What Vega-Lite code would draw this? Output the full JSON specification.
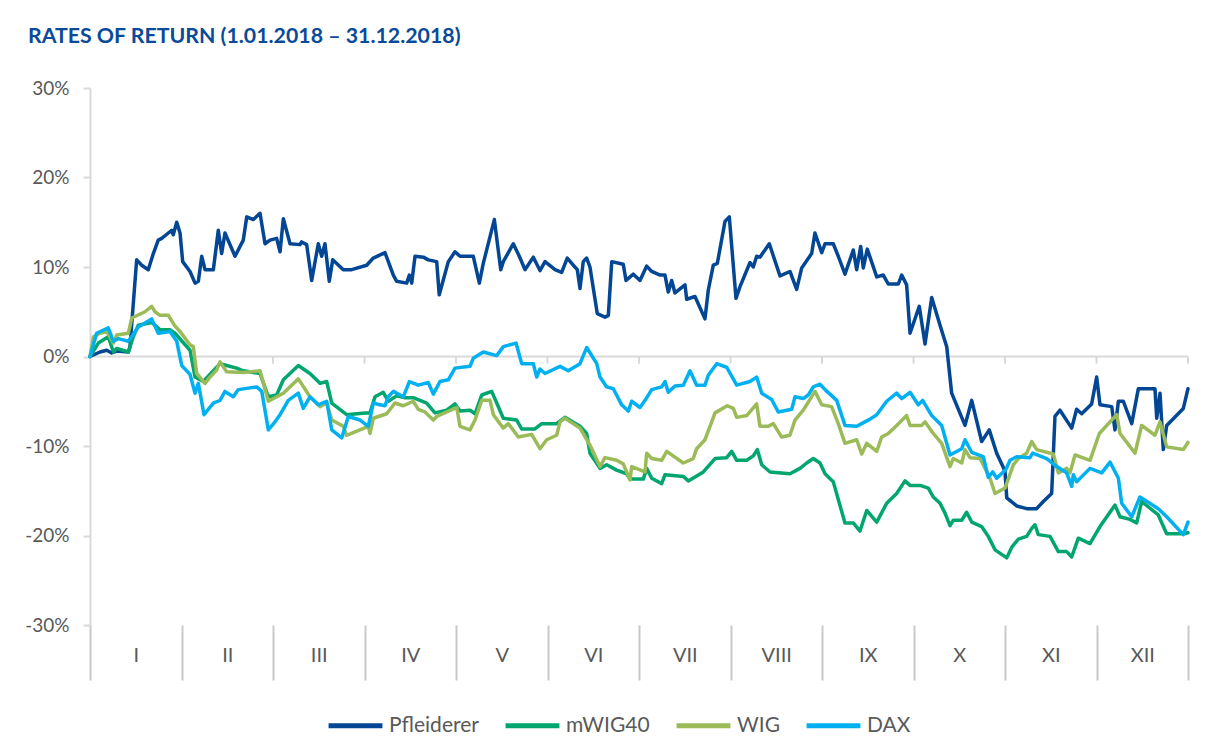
{
  "$schema": "https://vega.github.io/schema/vega-lite/v6.json",
  "width": 1098,
  "height": 537,
  "autosize": {"type": "none"},
  "padding": {"left": 90, "top": 88, "right": 27, "bottom": 131},
  "background": "white",
  "config": {
    "view": {"stroke": null},
    "font": "Lato",
    "axis": {"labelFont": "Lato", "labelColor": "#595959", "domainColor": "#D9D9D9", "tickColor": "#D9D9D9"}
  },
  "title": {
    "text": "RATES OF RETURN (1.01.2018 – 31.12.2018)",
    "anchor": "start",
    "frame": "group",
    "dx": -62,
    "offset": 32,
    "font": "Lato",
    "fontSize": 21.3,
    "fontWeight": "bold",
    "color": "#0A4A9A"
  },
  "datasets": {
    "months": [{"m": 0}, {"m": 1}, {"m": 2}, {"m": 3}, {"m": 4}, {"m": 5}, {"m": 6}, {"m": 7}, {"m": 8}, {"m": 9}, {"m": 10}, {"m": 11}, {"m": 12}],
    "series": [
      {"s": "Pfleiderer", "t": 0, "v": 0},
      {"s": "Pfleiderer", "t": 0.109, "v": 0.5},
      {"s": "Pfleiderer", "t": 0.183, "v": 0.7},
      {"s": "Pfleiderer", "t": 0.237, "v": 0.4},
      {"s": "Pfleiderer", "t": 0.292, "v": 0.6},
      {"s": "Pfleiderer", "t": 0.419, "v": 0.5},
      {"s": "Pfleiderer", "t": 0.437, "v": 1.1},
      {"s": "Pfleiderer", "t": 0.51, "v": 10.8},
      {"s": "Pfleiderer", "t": 0.565, "v": 10.2},
      {"s": "Pfleiderer", "t": 0.637, "v": 9.7},
      {"s": "Pfleiderer", "t": 0.692, "v": 11.5},
      {"s": "Pfleiderer", "t": 0.746, "v": 13.0},
      {"s": "Pfleiderer", "t": 0.784, "v": 13.2},
      {"s": "Pfleiderer", "t": 0.856, "v": 13.8},
      {"s": "Pfleiderer", "t": 0.893, "v": 14.1},
      {"s": "Pfleiderer", "t": 0.91, "v": 13.6},
      {"s": "Pfleiderer", "t": 0.948, "v": 15.0},
      {"s": "Pfleiderer", "t": 0.984, "v": 13.8},
      {"s": "Pfleiderer", "t": 1.013, "v": 10.6},
      {"s": "Pfleiderer", "t": 1.093, "v": 9.5},
      {"s": "Pfleiderer", "t": 1.148, "v": 8.2},
      {"s": "Pfleiderer", "t": 1.184, "v": 8.4},
      {"s": "Pfleiderer", "t": 1.221, "v": 11.2},
      {"s": "Pfleiderer", "t": 1.257, "v": 9.7},
      {"s": "Pfleiderer", "t": 1.348, "v": 9.7},
      {"s": "Pfleiderer", "t": 1.402, "v": 14.1},
      {"s": "Pfleiderer", "t": 1.439, "v": 11.5},
      {"s": "Pfleiderer", "t": 1.475, "v": 13.8},
      {"s": "Pfleiderer", "t": 1.585, "v": 11.2},
      {"s": "Pfleiderer", "t": 1.675, "v": 13.0},
      {"s": "Pfleiderer", "t": 1.713, "v": 15.6},
      {"s": "Pfleiderer", "t": 1.785, "v": 15.3},
      {"s": "Pfleiderer", "t": 1.858, "v": 16.0},
      {"s": "Pfleiderer", "t": 1.913, "v": 12.6},
      {"s": "Pfleiderer", "t": 1.967, "v": 13.0},
      {"s": "Pfleiderer", "t": 2.04, "v": 13.2},
      {"s": "Pfleiderer", "t": 2.077, "v": 11.7},
      {"s": "Pfleiderer", "t": 2.113, "v": 15.4},
      {"s": "Pfleiderer", "t": 2.186, "v": 12.6},
      {"s": "Pfleiderer", "t": 2.295, "v": 12.5},
      {"s": "Pfleiderer", "t": 2.313, "v": 12.8},
      {"s": "Pfleiderer", "t": 2.368, "v": 12.5},
      {"s": "Pfleiderer", "t": 2.423, "v": 8.5},
      {"s": "Pfleiderer", "t": 2.495, "v": 12.6},
      {"s": "Pfleiderer", "t": 2.532, "v": 11.2},
      {"s": "Pfleiderer", "t": 2.568, "v": 12.6},
      {"s": "Pfleiderer", "t": 2.615, "v": 8.4},
      {"s": "Pfleiderer", "t": 2.653, "v": 10.8},
      {"s": "Pfleiderer", "t": 2.768, "v": 9.7},
      {"s": "Pfleiderer", "t": 2.86, "v": 9.7},
      {"s": "Pfleiderer", "t": 3.024, "v": 10.2},
      {"s": "Pfleiderer", "t": 3.096, "v": 11.0},
      {"s": "Pfleiderer", "t": 3.224, "v": 11.6},
      {"s": "Pfleiderer", "t": 3.315, "v": 9.1},
      {"s": "Pfleiderer", "t": 3.352, "v": 8.4},
      {"s": "Pfleiderer", "t": 3.461, "v": 8.2},
      {"s": "Pfleiderer", "t": 3.49, "v": 9.1},
      {"s": "Pfleiderer", "t": 3.516, "v": 8.2},
      {"s": "Pfleiderer", "t": 3.552, "v": 11.2},
      {"s": "Pfleiderer", "t": 3.643, "v": 11.1},
      {"s": "Pfleiderer", "t": 3.697, "v": 10.8},
      {"s": "Pfleiderer", "t": 3.789, "v": 10.6},
      {"s": "Pfleiderer", "t": 3.817, "v": 6.9},
      {"s": "Pfleiderer", "t": 3.916, "v": 10.6},
      {"s": "Pfleiderer", "t": 3.989, "v": 11.7},
      {"s": "Pfleiderer", "t": 4.044, "v": 11.2},
      {"s": "Pfleiderer", "t": 4.189, "v": 11.2},
      {"s": "Pfleiderer", "t": 4.255, "v": 8.2},
      {"s": "Pfleiderer", "t": 4.298, "v": 10.4},
      {"s": "Pfleiderer", "t": 4.419, "v": 15.3},
      {"s": "Pfleiderer", "t": 4.489, "v": 9.7},
      {"s": "Pfleiderer", "t": 4.517, "v": 10.6},
      {"s": "Pfleiderer", "t": 4.626, "v": 12.6},
      {"s": "Pfleiderer", "t": 4.692, "v": 11.2},
      {"s": "Pfleiderer", "t": 4.754, "v": 9.7},
      {"s": "Pfleiderer", "t": 4.845, "v": 11.1},
      {"s": "Pfleiderer", "t": 4.918, "v": 9.6},
      {"s": "Pfleiderer", "t": 4.973, "v": 10.6},
      {"s": "Pfleiderer", "t": 5.082, "v": 9.7},
      {"s": "Pfleiderer", "t": 5.155, "v": 9.4},
      {"s": "Pfleiderer", "t": 5.216, "v": 11.0},
      {"s": "Pfleiderer", "t": 5.282, "v": 10.2},
      {"s": "Pfleiderer", "t": 5.326, "v": 9.7},
      {"s": "Pfleiderer", "t": 5.355, "v": 7.6},
      {"s": "Pfleiderer", "t": 5.391, "v": 10.6},
      {"s": "Pfleiderer", "t": 5.428, "v": 11.0},
      {"s": "Pfleiderer", "t": 5.464, "v": 10.0},
      {"s": "Pfleiderer", "t": 5.544, "v": 4.8},
      {"s": "Pfleiderer", "t": 5.628, "v": 4.4},
      {"s": "Pfleiderer", "t": 5.665, "v": 4.6},
      {"s": "Pfleiderer", "t": 5.702, "v": 10.6},
      {"s": "Pfleiderer", "t": 5.828, "v": 10.3},
      {"s": "Pfleiderer", "t": 5.858, "v": 8.5},
      {"s": "Pfleiderer", "t": 5.938, "v": 9.2},
      {"s": "Pfleiderer", "t": 6.011, "v": 8.5},
      {"s": "Pfleiderer", "t": 6.084, "v": 10.1},
      {"s": "Pfleiderer", "t": 6.139, "v": 9.5},
      {"s": "Pfleiderer", "t": 6.23, "v": 9.1},
      {"s": "Pfleiderer", "t": 6.284, "v": 9.1},
      {"s": "Pfleiderer", "t": 6.32, "v": 7.2},
      {"s": "Pfleiderer", "t": 6.357, "v": 8.5},
      {"s": "Pfleiderer", "t": 6.393, "v": 7.1},
      {"s": "Pfleiderer", "t": 6.503, "v": 8.0},
      {"s": "Pfleiderer", "t": 6.521, "v": 6.4},
      {"s": "Pfleiderer", "t": 6.612, "v": 6.7},
      {"s": "Pfleiderer", "t": 6.721, "v": 4.2},
      {"s": "Pfleiderer", "t": 6.757, "v": 7.4},
      {"s": "Pfleiderer", "t": 6.812, "v": 10.2},
      {"s": "Pfleiderer", "t": 6.856, "v": 10.4},
      {"s": "Pfleiderer", "t": 6.94, "v": 15.1},
      {"s": "Pfleiderer", "t": 6.987, "v": 15.6},
      {"s": "Pfleiderer", "t": 7.06, "v": 6.5},
      {"s": "Pfleiderer", "t": 7.104, "v": 7.8},
      {"s": "Pfleiderer", "t": 7.213, "v": 10.5},
      {"s": "Pfleiderer", "t": 7.249, "v": 10.0},
      {"s": "Pfleiderer", "t": 7.286, "v": 11.2},
      {"s": "Pfleiderer", "t": 7.322, "v": 11.1},
      {"s": "Pfleiderer", "t": 7.424, "v": 12.6},
      {"s": "Pfleiderer", "t": 7.541, "v": 9.0},
      {"s": "Pfleiderer", "t": 7.65, "v": 9.5},
      {"s": "Pfleiderer", "t": 7.723, "v": 7.5},
      {"s": "Pfleiderer", "t": 7.778, "v": 9.9},
      {"s": "Pfleiderer", "t": 7.887, "v": 11.5},
      {"s": "Pfleiderer", "t": 7.923, "v": 13.8},
      {"s": "Pfleiderer", "t": 7.997, "v": 11.6},
      {"s": "Pfleiderer", "t": 8.033, "v": 12.6},
      {"s": "Pfleiderer", "t": 8.123, "v": 12.6},
      {"s": "Pfleiderer", "t": 8.178, "v": 11.2},
      {"s": "Pfleiderer", "t": 8.251, "v": 9.2},
      {"s": "Pfleiderer", "t": 8.342, "v": 11.9},
      {"s": "Pfleiderer", "t": 8.379, "v": 9.7},
      {"s": "Pfleiderer", "t": 8.423, "v": 12.3},
      {"s": "Pfleiderer", "t": 8.451, "v": 9.9},
      {"s": "Pfleiderer", "t": 8.495, "v": 12.0},
      {"s": "Pfleiderer", "t": 8.598, "v": 8.9},
      {"s": "Pfleiderer", "t": 8.67, "v": 9.1},
      {"s": "Pfleiderer", "t": 8.724, "v": 8.1},
      {"s": "Pfleiderer", "t": 8.834, "v": 8.1},
      {"s": "Pfleiderer", "t": 8.871, "v": 9.1},
      {"s": "Pfleiderer", "t": 8.925, "v": 8.0},
      {"s": "Pfleiderer", "t": 8.962, "v": 2.6},
      {"s": "Pfleiderer", "t": 9.063, "v": 5.6},
      {"s": "Pfleiderer", "t": 9.126, "v": 1.4},
      {"s": "Pfleiderer", "t": 9.199, "v": 6.6},
      {"s": "Pfleiderer", "t": 9.29, "v": 3.5},
      {"s": "Pfleiderer", "t": 9.363, "v": 1.1},
      {"s": "Pfleiderer", "t": 9.417, "v": -4.1},
      {"s": "Pfleiderer", "t": 9.563, "v": -7.7},
      {"s": "Pfleiderer", "t": 9.636, "v": -4.9},
      {"s": "Pfleiderer", "t": 9.745, "v": -9.5},
      {"s": "Pfleiderer", "t": 9.828, "v": -8.2},
      {"s": "Pfleiderer", "t": 9.909, "v": -10.8},
      {"s": "Pfleiderer", "t": 10.0, "v": -12.8},
      {"s": "Pfleiderer", "t": 10.019, "v": -15.8},
      {"s": "Pfleiderer", "t": 10.128, "v": -16.7},
      {"s": "Pfleiderer", "t": 10.237, "v": -17.0},
      {"s": "Pfleiderer", "t": 10.346, "v": -17.0},
      {"s": "Pfleiderer", "t": 10.419, "v": -16.2},
      {"s": "Pfleiderer", "t": 10.51, "v": -15.3},
      {"s": "Pfleiderer", "t": 10.546, "v": -6.7},
      {"s": "Pfleiderer", "t": 10.601, "v": -6.0},
      {"s": "Pfleiderer", "t": 10.729, "v": -8.0},
      {"s": "Pfleiderer", "t": 10.783, "v": -5.9},
      {"s": "Pfleiderer", "t": 10.838, "v": -6.4},
      {"s": "Pfleiderer", "t": 10.947, "v": -5.3},
      {"s": "Pfleiderer", "t": 11.002, "v": -2.3},
      {"s": "Pfleiderer", "t": 11.038, "v": -5.4},
      {"s": "Pfleiderer", "t": 11.166, "v": -5.6},
      {"s": "Pfleiderer", "t": 11.202, "v": -8.2},
      {"s": "Pfleiderer", "t": 11.239, "v": -5.0},
      {"s": "Pfleiderer", "t": 11.293, "v": -5.0},
      {"s": "Pfleiderer", "t": 11.385, "v": -7.5},
      {"s": "Pfleiderer", "t": 11.457, "v": -3.6},
      {"s": "Pfleiderer", "t": 11.639, "v": -3.6},
      {"s": "Pfleiderer", "t": 11.658, "v": -6.9},
      {"s": "Pfleiderer", "t": 11.694, "v": -4.1},
      {"s": "Pfleiderer", "t": 11.73, "v": -10.4},
      {"s": "Pfleiderer", "t": 11.767, "v": -7.7},
      {"s": "Pfleiderer", "t": 11.949, "v": -5.8},
      {"s": "Pfleiderer", "t": 12.0, "v": -3.6},

      {"s": "mWIG40", "t": 0, "v": 0},
      {"s": "mWIG40", "t": 0.091, "v": 1.5},
      {"s": "mWIG40", "t": 0.2, "v": 2.2},
      {"s": "mWIG40", "t": 0.255, "v": 0.5},
      {"s": "mWIG40", "t": 0.292, "v": 0.9},
      {"s": "mWIG40", "t": 0.419, "v": 0.5},
      {"s": "mWIG40", "t": 0.473, "v": 2.2},
      {"s": "mWIG40", "t": 0.528, "v": 3.5},
      {"s": "mWIG40", "t": 0.674, "v": 3.8},
      {"s": "mWIG40", "t": 0.765, "v": 3.0},
      {"s": "mWIG40", "t": 0.874, "v": 3.0},
      {"s": "mWIG40", "t": 0.929, "v": 2.6},
      {"s": "mWIG40", "t": 1.093, "v": 0.7},
      {"s": "mWIG40", "t": 1.148, "v": -2.3},
      {"s": "mWIG40", "t": 1.238, "v": -2.8},
      {"s": "mWIG40", "t": 1.421, "v": -0.8},
      {"s": "mWIG40", "t": 1.494, "v": -1.0},
      {"s": "mWIG40", "t": 1.603, "v": -1.3},
      {"s": "mWIG40", "t": 1.675, "v": -1.6},
      {"s": "mWIG40", "t": 1.858, "v": -1.9},
      {"s": "mWIG40", "t": 1.949, "v": -4.5},
      {"s": "mWIG40", "t": 2.04, "v": -4.3},
      {"s": "mWIG40", "t": 2.113, "v": -2.6},
      {"s": "mWIG40", "t": 2.277, "v": -1.0},
      {"s": "mWIG40", "t": 2.404, "v": -1.9},
      {"s": "mWIG40", "t": 2.514, "v": -3.0},
      {"s": "mWIG40", "t": 2.587, "v": -2.8},
      {"s": "mWIG40", "t": 2.642, "v": -5.2},
      {"s": "mWIG40", "t": 2.805, "v": -6.5},
      {"s": "mWIG40", "t": 3.005, "v": -6.3},
      {"s": "mWIG40", "t": 3.06, "v": -6.3},
      {"s": "mWIG40", "t": 3.115, "v": -4.5},
      {"s": "mWIG40", "t": 3.205, "v": -4.0},
      {"s": "mWIG40", "t": 3.26, "v": -5.0},
      {"s": "mWIG40", "t": 3.352, "v": -4.4},
      {"s": "mWIG40", "t": 3.443, "v": -4.6},
      {"s": "mWIG40", "t": 3.533, "v": -4.6},
      {"s": "mWIG40", "t": 3.68, "v": -5.2},
      {"s": "mWIG40", "t": 3.77, "v": -6.3},
      {"s": "mWIG40", "t": 3.898, "v": -6.0},
      {"s": "mWIG40", "t": 3.989, "v": -5.3},
      {"s": "mWIG40", "t": 4.044, "v": -6.1},
      {"s": "mWIG40", "t": 4.153, "v": -6.0},
      {"s": "mWIG40", "t": 4.208, "v": -6.4},
      {"s": "mWIG40", "t": 4.281, "v": -4.3},
      {"s": "mWIG40", "t": 4.39, "v": -3.9},
      {"s": "mWIG40", "t": 4.445, "v": -5.2},
      {"s": "mWIG40", "t": 4.517, "v": -6.9},
      {"s": "mWIG40", "t": 4.663, "v": -7.1},
      {"s": "mWIG40", "t": 4.718, "v": -8.1},
      {"s": "mWIG40", "t": 4.863, "v": -8.1},
      {"s": "mWIG40", "t": 4.937, "v": -7.5},
      {"s": "mWIG40", "t": 5.1, "v": -7.5},
      {"s": "mWIG40", "t": 5.191, "v": -6.8},
      {"s": "mWIG40", "t": 5.355, "v": -7.8},
      {"s": "mWIG40", "t": 5.428, "v": -8.6},
      {"s": "mWIG40", "t": 5.464, "v": -10.8},
      {"s": "mWIG40", "t": 5.574, "v": -12.5},
      {"s": "mWIG40", "t": 5.647, "v": -12.1},
      {"s": "mWIG40", "t": 5.756, "v": -12.7},
      {"s": "mWIG40", "t": 5.865, "v": -13.1},
      {"s": "mWIG40", "t": 5.902, "v": -13.7},
      {"s": "mWIG40", "t": 6.047, "v": -13.7},
      {"s": "mWIG40", "t": 6.084, "v": -12.5},
      {"s": "mWIG40", "t": 6.139, "v": -13.6},
      {"s": "mWIG40", "t": 6.248, "v": -14.2},
      {"s": "mWIG40", "t": 6.284, "v": -13.2},
      {"s": "mWIG40", "t": 6.484, "v": -13.4},
      {"s": "mWIG40", "t": 6.539, "v": -13.9},
      {"s": "mWIG40", "t": 6.703, "v": -12.9},
      {"s": "mWIG40", "t": 6.831, "v": -11.4},
      {"s": "mWIG40", "t": 6.958, "v": -11.3},
      {"s": "mWIG40", "t": 7.013, "v": -10.6},
      {"s": "mWIG40", "t": 7.068, "v": -11.6},
      {"s": "mWIG40", "t": 7.177, "v": -11.6},
      {"s": "mWIG40", "t": 7.249, "v": -11.1},
      {"s": "mWIG40", "t": 7.293, "v": -10.4},
      {"s": "mWIG40", "t": 7.341, "v": -12.1},
      {"s": "mWIG40", "t": 7.432, "v": -12.9},
      {"s": "mWIG40", "t": 7.65, "v": -13.1},
      {"s": "mWIG40", "t": 7.76, "v": -12.5},
      {"s": "mWIG40", "t": 7.833, "v": -11.9},
      {"s": "mWIG40", "t": 7.905, "v": -11.4},
      {"s": "mWIG40", "t": 7.978, "v": -11.9},
      {"s": "mWIG40", "t": 8.033, "v": -13.1},
      {"s": "mWIG40", "t": 8.123, "v": -14.0},
      {"s": "mWIG40", "t": 8.251, "v": -18.6},
      {"s": "mWIG40", "t": 8.342, "v": -18.6},
      {"s": "mWIG40", "t": 8.415, "v": -19.5},
      {"s": "mWIG40", "t": 8.489, "v": -17.2},
      {"s": "mWIG40", "t": 8.598, "v": -18.5},
      {"s": "mWIG40", "t": 8.707, "v": -16.4},
      {"s": "mWIG40", "t": 8.816, "v": -15.3},
      {"s": "mWIG40", "t": 8.907, "v": -13.9},
      {"s": "mWIG40", "t": 8.962, "v": -14.4},
      {"s": "mWIG40", "t": 9.071, "v": -14.4},
      {"s": "mWIG40", "t": 9.162, "v": -14.7},
      {"s": "mWIG40", "t": 9.216, "v": -15.7},
      {"s": "mWIG40", "t": 9.29, "v": -16.4},
      {"s": "mWIG40", "t": 9.344, "v": -17.5},
      {"s": "mWIG40", "t": 9.399, "v": -18.9},
      {"s": "mWIG40", "t": 9.435, "v": -18.3},
      {"s": "mWIG40", "t": 9.527, "v": -18.3},
      {"s": "mWIG40", "t": 9.581, "v": -17.4},
      {"s": "mWIG40", "t": 9.636, "v": -18.5},
      {"s": "mWIG40", "t": 9.745, "v": -19.0},
      {"s": "mWIG40", "t": 9.817, "v": -20.1},
      {"s": "mWIG40", "t": 9.891, "v": -21.6},
      {"s": "mWIG40", "t": 10.019, "v": -22.5},
      {"s": "mWIG40", "t": 10.074, "v": -21.3},
      {"s": "mWIG40", "t": 10.146, "v": -20.4},
      {"s": "mWIG40", "t": 10.237, "v": -20.1},
      {"s": "mWIG40", "t": 10.292, "v": -19.2},
      {"s": "mWIG40", "t": 10.328, "v": -18.8},
      {"s": "mWIG40", "t": 10.364, "v": -19.9},
      {"s": "mWIG40", "t": 10.492, "v": -20.1},
      {"s": "mWIG40", "t": 10.583, "v": -21.8},
      {"s": "mWIG40", "t": 10.674, "v": -21.8},
      {"s": "mWIG40", "t": 10.729, "v": -22.4},
      {"s": "mWIG40", "t": 10.801, "v": -20.3},
      {"s": "mWIG40", "t": 10.929, "v": -20.9},
      {"s": "mWIG40", "t": 11.038, "v": -19.0},
      {"s": "mWIG40", "t": 11.202, "v": -16.6},
      {"s": "mWIG40", "t": 11.257, "v": -17.9},
      {"s": "mWIG40", "t": 11.366, "v": -18.2},
      {"s": "mWIG40", "t": 11.439, "v": -18.6},
      {"s": "mWIG40", "t": 11.494, "v": -16.2},
      {"s": "mWIG40", "t": 11.675, "v": -17.7},
      {"s": "mWIG40", "t": 11.767, "v": -19.8},
      {"s": "mWIG40", "t": 11.949, "v": -19.8},
      {"s": "mWIG40", "t": 12.0, "v": -19.7},

      {"s": "WIG", "t": 0, "v": 0},
      {"s": "WIG", "t": 0.037, "v": 2.2},
      {"s": "WIG", "t": 0.109, "v": 2.6},
      {"s": "WIG", "t": 0.183, "v": 2.8},
      {"s": "WIG", "t": 0.255, "v": 1.5},
      {"s": "WIG", "t": 0.292, "v": 2.4},
      {"s": "WIG", "t": 0.419, "v": 2.6},
      {"s": "WIG", "t": 0.456, "v": 4.3},
      {"s": "WIG", "t": 0.601, "v": 5.0},
      {"s": "WIG", "t": 0.674, "v": 5.6},
      {"s": "WIG", "t": 0.71, "v": 5.0},
      {"s": "WIG", "t": 0.765, "v": 4.6},
      {"s": "WIG", "t": 0.856, "v": 4.6},
      {"s": "WIG", "t": 0.929, "v": 3.4},
      {"s": "WIG", "t": 0.984, "v": 2.8},
      {"s": "WIG", "t": 1.093, "v": 1.3},
      {"s": "WIG", "t": 1.129, "v": 1.1},
      {"s": "WIG", "t": 1.166, "v": -1.9},
      {"s": "WIG", "t": 1.257, "v": -3.0},
      {"s": "WIG", "t": 1.311, "v": -2.3},
      {"s": "WIG", "t": 1.385, "v": -1.5},
      {"s": "WIG", "t": 1.421, "v": -0.6},
      {"s": "WIG", "t": 1.494, "v": -1.7},
      {"s": "WIG", "t": 1.675, "v": -1.8},
      {"s": "WIG", "t": 1.858, "v": -1.6},
      {"s": "WIG", "t": 1.949, "v": -5.0},
      {"s": "WIG", "t": 2.113, "v": -4.1},
      {"s": "WIG", "t": 2.277, "v": -2.5},
      {"s": "WIG", "t": 2.404, "v": -4.5},
      {"s": "WIG", "t": 2.514, "v": -5.6},
      {"s": "WIG", "t": 2.587, "v": -5.2},
      {"s": "WIG", "t": 2.642, "v": -7.1},
      {"s": "WIG", "t": 2.768, "v": -7.8},
      {"s": "WIG", "t": 2.805, "v": -8.8},
      {"s": "WIG", "t": 3.042, "v": -7.8},
      {"s": "WIG", "t": 3.06, "v": -8.6},
      {"s": "WIG", "t": 3.096, "v": -6.9},
      {"s": "WIG", "t": 3.243, "v": -6.4},
      {"s": "WIG", "t": 3.333, "v": -5.2},
      {"s": "WIG", "t": 3.424, "v": -5.5},
      {"s": "WIG", "t": 3.533, "v": -5.0},
      {"s": "WIG", "t": 3.588, "v": -5.9},
      {"s": "WIG", "t": 3.661, "v": -6.2},
      {"s": "WIG", "t": 3.752, "v": -7.1},
      {"s": "WIG", "t": 3.789, "v": -6.7},
      {"s": "WIG", "t": 4.008, "v": -5.7},
      {"s": "WIG", "t": 4.044, "v": -7.8},
      {"s": "WIG", "t": 4.153, "v": -8.2},
      {"s": "WIG", "t": 4.208, "v": -7.1},
      {"s": "WIG", "t": 4.281, "v": -4.9},
      {"s": "WIG", "t": 4.372, "v": -4.9},
      {"s": "WIG", "t": 4.408, "v": -6.5},
      {"s": "WIG", "t": 4.517, "v": -8.0},
      {"s": "WIG", "t": 4.572, "v": -7.5},
      {"s": "WIG", "t": 4.681, "v": -9.0},
      {"s": "WIG", "t": 4.827, "v": -8.7},
      {"s": "WIG", "t": 4.918, "v": -10.3},
      {"s": "WIG", "t": 4.991, "v": -9.3},
      {"s": "WIG", "t": 5.1, "v": -8.8},
      {"s": "WIG", "t": 5.137, "v": -7.3},
      {"s": "WIG", "t": 5.191, "v": -6.9},
      {"s": "WIG", "t": 5.355, "v": -8.0},
      {"s": "WIG", "t": 5.464, "v": -9.9},
      {"s": "WIG", "t": 5.574, "v": -12.3},
      {"s": "WIG", "t": 5.628, "v": -11.3},
      {"s": "WIG", "t": 5.756, "v": -11.6},
      {"s": "WIG", "t": 5.828, "v": -12.0},
      {"s": "WIG", "t": 5.902, "v": -13.8},
      {"s": "WIG", "t": 5.92, "v": -12.3},
      {"s": "WIG", "t": 6.066, "v": -12.9},
      {"s": "WIG", "t": 6.084, "v": -10.8},
      {"s": "WIG", "t": 6.139, "v": -11.4},
      {"s": "WIG", "t": 6.248, "v": -11.6},
      {"s": "WIG", "t": 6.303, "v": -10.6},
      {"s": "WIG", "t": 6.484, "v": -11.9},
      {"s": "WIG", "t": 6.593, "v": -11.4},
      {"s": "WIG", "t": 6.63, "v": -10.3},
      {"s": "WIG", "t": 6.721, "v": -9.3},
      {"s": "WIG", "t": 6.776, "v": -7.8},
      {"s": "WIG", "t": 6.831, "v": -6.3},
      {"s": "WIG", "t": 6.965, "v": -5.5},
      {"s": "WIG", "t": 7.031, "v": -5.8},
      {"s": "WIG", "t": 7.068, "v": -6.8},
      {"s": "WIG", "t": 7.177, "v": -6.6},
      {"s": "WIG", "t": 7.286, "v": -5.3},
      {"s": "WIG", "t": 7.322, "v": -7.8},
      {"s": "WIG", "t": 7.413, "v": -7.8},
      {"s": "WIG", "t": 7.468, "v": -7.5},
      {"s": "WIG", "t": 7.559, "v": -9.0},
      {"s": "WIG", "t": 7.65, "v": -8.8},
      {"s": "WIG", "t": 7.705, "v": -7.1},
      {"s": "WIG", "t": 7.795, "v": -6.0},
      {"s": "WIG", "t": 7.923, "v": -3.9},
      {"s": "WIG", "t": 7.997, "v": -5.4},
      {"s": "WIG", "t": 8.105, "v": -5.6},
      {"s": "WIG", "t": 8.178, "v": -7.5},
      {"s": "WIG", "t": 8.251, "v": -9.7},
      {"s": "WIG", "t": 8.379, "v": -9.3},
      {"s": "WIG", "t": 8.434, "v": -10.9},
      {"s": "WIG", "t": 8.489, "v": -9.7},
      {"s": "WIG", "t": 8.598, "v": -10.6},
      {"s": "WIG", "t": 8.652, "v": -9.0},
      {"s": "WIG", "t": 8.724, "v": -8.6},
      {"s": "WIG", "t": 8.816, "v": -7.7},
      {"s": "WIG", "t": 8.925, "v": -6.6},
      {"s": "WIG", "t": 8.962, "v": -7.7},
      {"s": "WIG", "t": 9.089, "v": -7.7},
      {"s": "WIG", "t": 9.126, "v": -7.3},
      {"s": "WIG", "t": 9.216, "v": -8.6},
      {"s": "WIG", "t": 9.308, "v": -9.7},
      {"s": "WIG", "t": 9.399, "v": -12.3},
      {"s": "WIG", "t": 9.435, "v": -11.4},
      {"s": "WIG", "t": 9.527, "v": -11.9},
      {"s": "WIG", "t": 9.563, "v": -10.4},
      {"s": "WIG", "t": 9.617, "v": -11.3},
      {"s": "WIG", "t": 9.727, "v": -11.4},
      {"s": "WIG", "t": 9.836, "v": -13.6},
      {"s": "WIG", "t": 9.891, "v": -15.3},
      {"s": "WIG", "t": 10.0, "v": -14.7},
      {"s": "WIG", "t": 10.091, "v": -12.1},
      {"s": "WIG", "t": 10.146, "v": -11.4},
      {"s": "WIG", "t": 10.237, "v": -10.8},
      {"s": "WIG", "t": 10.292, "v": -9.5},
      {"s": "WIG", "t": 10.346, "v": -10.4},
      {"s": "WIG", "t": 10.528, "v": -10.9},
      {"s": "WIG", "t": 10.583, "v": -13.0},
      {"s": "WIG", "t": 10.674, "v": -12.5},
      {"s": "WIG", "t": 10.71, "v": -13.0},
      {"s": "WIG", "t": 10.765, "v": -11.0},
      {"s": "WIG", "t": 10.929, "v": -11.6},
      {"s": "WIG", "t": 11.031, "v": -8.6},
      {"s": "WIG", "t": 11.221, "v": -6.5},
      {"s": "WIG", "t": 11.257, "v": -8.6},
      {"s": "WIG", "t": 11.421, "v": -10.8},
      {"s": "WIG", "t": 11.494, "v": -7.7},
      {"s": "WIG", "t": 11.639, "v": -8.8},
      {"s": "WIG", "t": 11.694, "v": -7.3},
      {"s": "WIG", "t": 11.767, "v": -10.1},
      {"s": "WIG", "t": 11.949, "v": -10.4},
      {"s": "WIG", "t": 12.0, "v": -9.6},

      {"s": "DAX", "t": 0, "v": 0},
      {"s": "DAX", "t": 0.073, "v": 2.6},
      {"s": "DAX", "t": 0.2, "v": 3.2},
      {"s": "DAX", "t": 0.255, "v": 1.7},
      {"s": "DAX", "t": 0.309, "v": 2.0},
      {"s": "DAX", "t": 0.419, "v": 1.7},
      {"s": "DAX", "t": 0.528, "v": 3.3},
      {"s": "DAX", "t": 0.674, "v": 4.2},
      {"s": "DAX", "t": 0.746, "v": 2.6},
      {"s": "DAX", "t": 0.874, "v": 2.8},
      {"s": "DAX", "t": 0.948, "v": 1.7},
      {"s": "DAX", "t": 1.002, "v": -1.0},
      {"s": "DAX", "t": 1.093, "v": -2.0},
      {"s": "DAX", "t": 1.148, "v": -4.1},
      {"s": "DAX", "t": 1.184, "v": -3.0},
      {"s": "DAX", "t": 1.246, "v": -6.5},
      {"s": "DAX", "t": 1.348, "v": -5.2},
      {"s": "DAX", "t": 1.421, "v": -4.9},
      {"s": "DAX", "t": 1.475, "v": -3.9},
      {"s": "DAX", "t": 1.566, "v": -4.5},
      {"s": "DAX", "t": 1.621, "v": -3.7},
      {"s": "DAX", "t": 1.822, "v": -3.4},
      {"s": "DAX", "t": 1.877, "v": -3.9},
      {"s": "DAX", "t": 1.949, "v": -8.2},
      {"s": "DAX", "t": 2.022, "v": -7.3},
      {"s": "DAX", "t": 2.077, "v": -6.5},
      {"s": "DAX", "t": 2.167, "v": -4.9},
      {"s": "DAX", "t": 2.277, "v": -4.1},
      {"s": "DAX", "t": 2.331, "v": -5.8},
      {"s": "DAX", "t": 2.404, "v": -4.5},
      {"s": "DAX", "t": 2.495, "v": -5.4},
      {"s": "DAX", "t": 2.587, "v": -5.0},
      {"s": "DAX", "t": 2.642, "v": -8.2},
      {"s": "DAX", "t": 2.751, "v": -9.1},
      {"s": "DAX", "t": 2.823, "v": -6.7},
      {"s": "DAX", "t": 2.951, "v": -7.1},
      {"s": "DAX", "t": 3.042, "v": -7.8},
      {"s": "DAX", "t": 3.096, "v": -5.2},
      {"s": "DAX", "t": 3.169, "v": -5.4},
      {"s": "DAX", "t": 3.224, "v": -5.5},
      {"s": "DAX", "t": 3.26, "v": -4.5},
      {"s": "DAX", "t": 3.315, "v": -3.9},
      {"s": "DAX", "t": 3.424, "v": -4.5},
      {"s": "DAX", "t": 3.49, "v": -2.8},
      {"s": "DAX", "t": 3.588, "v": -3.2},
      {"s": "DAX", "t": 3.697, "v": -2.9},
      {"s": "DAX", "t": 3.752, "v": -4.2},
      {"s": "DAX", "t": 3.825, "v": -2.8},
      {"s": "DAX", "t": 3.916, "v": -2.6},
      {"s": "DAX", "t": 3.989, "v": -1.3},
      {"s": "DAX", "t": 4.153, "v": -1.1},
      {"s": "DAX", "t": 4.189, "v": -0.2},
      {"s": "DAX", "t": 4.298, "v": 0.5},
      {"s": "DAX", "t": 4.445, "v": 0.1},
      {"s": "DAX", "t": 4.517, "v": 1.1},
      {"s": "DAX", "t": 4.656, "v": 1.5},
      {"s": "DAX", "t": 4.718, "v": -0.8},
      {"s": "DAX", "t": 4.845, "v": -0.8},
      {"s": "DAX", "t": 4.882, "v": -2.3},
      {"s": "DAX", "t": 4.918, "v": -1.4},
      {"s": "DAX", "t": 4.973, "v": -1.9},
      {"s": "DAX", "t": 5.137, "v": -1.1},
      {"s": "DAX", "t": 5.227, "v": -1.6},
      {"s": "DAX", "t": 5.355, "v": -0.8},
      {"s": "DAX", "t": 5.428, "v": 1.0},
      {"s": "DAX", "t": 5.538, "v": -0.8},
      {"s": "DAX", "t": 5.574, "v": -2.3},
      {"s": "DAX", "t": 5.647, "v": -3.4},
      {"s": "DAX", "t": 5.719, "v": -3.6},
      {"s": "DAX", "t": 5.811, "v": -5.4},
      {"s": "DAX", "t": 5.883, "v": -6.1},
      {"s": "DAX", "t": 5.92, "v": -5.0},
      {"s": "DAX", "t": 6.011, "v": -5.7},
      {"s": "DAX", "t": 6.066, "v": -4.9},
      {"s": "DAX", "t": 6.139, "v": -3.7},
      {"s": "DAX", "t": 6.248, "v": -3.4},
      {"s": "DAX", "t": 6.284, "v": -2.8},
      {"s": "DAX", "t": 6.32, "v": -4.0},
      {"s": "DAX", "t": 6.393, "v": -3.3},
      {"s": "DAX", "t": 6.484, "v": -3.2},
      {"s": "DAX", "t": 6.557, "v": -1.6},
      {"s": "DAX", "t": 6.63, "v": -3.2},
      {"s": "DAX", "t": 6.721, "v": -3.2},
      {"s": "DAX", "t": 6.757, "v": -2.1},
      {"s": "DAX", "t": 6.849, "v": -0.8},
      {"s": "DAX", "t": 6.958, "v": -1.2},
      {"s": "DAX", "t": 7.068, "v": -3.2},
      {"s": "DAX", "t": 7.213, "v": -2.8},
      {"s": "DAX", "t": 7.286, "v": -2.3},
      {"s": "DAX", "t": 7.341, "v": -4.1},
      {"s": "DAX", "t": 7.45, "v": -4.8},
      {"s": "DAX", "t": 7.522, "v": -6.2},
      {"s": "DAX", "t": 7.669, "v": -5.9},
      {"s": "DAX", "t": 7.705, "v": -4.5},
      {"s": "DAX", "t": 7.795, "v": -4.7},
      {"s": "DAX", "t": 7.85, "v": -4.3},
      {"s": "DAX", "t": 7.905, "v": -3.4},
      {"s": "DAX", "t": 7.978, "v": -3.1},
      {"s": "DAX", "t": 8.033, "v": -3.7},
      {"s": "DAX", "t": 8.161, "v": -4.9},
      {"s": "DAX", "t": 8.251, "v": -7.7},
      {"s": "DAX", "t": 8.379, "v": -7.8},
      {"s": "DAX", "t": 8.434, "v": -7.5},
      {"s": "DAX", "t": 8.525, "v": -7.0},
      {"s": "DAX", "t": 8.598, "v": -6.5},
      {"s": "DAX", "t": 8.707, "v": -5.0},
      {"s": "DAX", "t": 8.816, "v": -4.1},
      {"s": "DAX", "t": 8.871, "v": -4.7},
      {"s": "DAX", "t": 8.962, "v": -4.0},
      {"s": "DAX", "t": 9.052, "v": -5.4},
      {"s": "DAX", "t": 9.1, "v": -4.9},
      {"s": "DAX", "t": 9.199, "v": -6.6},
      {"s": "DAX", "t": 9.308, "v": -7.7},
      {"s": "DAX", "t": 9.399, "v": -11.0},
      {"s": "DAX", "t": 9.527, "v": -10.3},
      {"s": "DAX", "t": 9.563, "v": -9.3},
      {"s": "DAX", "t": 9.636, "v": -10.7},
      {"s": "DAX", "t": 9.763, "v": -11.2},
      {"s": "DAX", "t": 9.817, "v": -13.5},
      {"s": "DAX", "t": 9.866, "v": -12.9},
      {"s": "DAX", "t": 9.909, "v": -13.6},
      {"s": "DAX", "t": 10.011, "v": -12.6},
      {"s": "DAX", "t": 10.055, "v": -11.6},
      {"s": "DAX", "t": 10.128, "v": -11.2},
      {"s": "DAX", "t": 10.273, "v": -11.3},
      {"s": "DAX", "t": 10.303, "v": -10.8},
      {"s": "DAX", "t": 10.456, "v": -11.4},
      {"s": "DAX", "t": 10.565, "v": -12.3},
      {"s": "DAX", "t": 10.674, "v": -13.0},
      {"s": "DAX", "t": 10.729, "v": -14.5},
      {"s": "DAX", "t": 10.747, "v": -13.2},
      {"s": "DAX", "t": 10.783, "v": -14.0},
      {"s": "DAX", "t": 10.929, "v": -12.5},
      {"s": "DAX", "t": 11.057, "v": -13.0},
      {"s": "DAX", "t": 11.148, "v": -11.8},
      {"s": "DAX", "t": 11.239, "v": -13.6},
      {"s": "DAX", "t": 11.275, "v": -16.4},
      {"s": "DAX", "t": 11.385, "v": -17.9},
      {"s": "DAX", "t": 11.475, "v": -15.7},
      {"s": "DAX", "t": 11.675, "v": -17.0},
      {"s": "DAX", "t": 11.767, "v": -17.9},
      {"s": "DAX", "t": 11.949, "v": -19.9},
      {"s": "DAX", "t": 12.0, "v": -18.5}
    ]
  },
  "layer": [
    {
      "data": {"values": [{"z": 0}]},
      "mark": {"type": "rule", "color": "#D9D9D9", "strokeWidth": 2},
      "encoding": {
        "y": {"field": "z", "type": "quantitative", "scale": {"domain": [-30, 30]}}
      }
    },
    {
      "data": {"name": "months"},
      "transform": [{"filter": "datum.m > 0"}],
      "mark": {"type": "rule", "color": "#D9D9D9", "strokeWidth": 2},
      "encoding": {
        "x": {"field": "m", "type": "quantitative"},
        "y": {"datum": 0, "type": "quantitative"},
        "y2": {"datum": -0.8}
      }
    },
    {
      "data": {"name": "series"},
      "mark": {"type": "line", "strokeWidth": 3.5, "strokeJoin": "round", "strokeCap": "round"},
      "encoding": {
        "x": {
          "field": "t",
          "type": "quantitative",
          "scale": {"domain": [0, 12], "nice": false, "zero": false},
          "axis": {
            "title": null,
            "values": [0, 1, 2, 3, 4, 5, 6, 7, 8, 9, 10, 11, 12],
            "domain": false,
            "grid": false,
            "ticks": true,
            "tickSize": 55,
            "tickWidth": 2,
            "tickColor": "#C8C8C8",
            "labelExpr": "['I','II','III','IV','V','VI','VII','VIII','IX','X','XI','XII',''][datum.value]",
            "labelOffset": 45.75,
            "labelPadding": -25,
            "labelBaseline": "middle",
            "labelAlign": "center",
            "labelFontSize": 20,
            "labelColor": "#595959",
            "labelFlush": false,
            "labelOverlap": false
          }
        },
        "y": {
          "field": "v",
          "type": "quantitative",
          "scale": {"domain": [-30, 30], "nice": false},
          "axis": {
            "title": null,
            "values": [-30, -20, -10, 0, 10, 20, 30],
            "grid": false,
            "domain": true,
            "domainColor": "#D9D9D9",
            "domainWidth": 2,
            "tickSize": 7,
            "tickWidth": 2,
            "tickColor": "#D9D9D9",
            "labelPadding": 14,
            "labelFontSize": 19,
            "labelColor": "#595959",
            "labelExpr": "datum.value + '%'",
            "labelFlush": false
          }
        },
        "color": {
          "field": "s",
          "type": "nominal",
          "sort": ["Pfleiderer", "mWIG40", "WIG", "DAX"],
          "scale": {
            "domain": ["Pfleiderer", "mWIG40", "WIG", "DAX"],
            "range": ["#034694", "#00A66E", "#9BBB59", "#00B0F0"]
          },
          "legend": {
            "title": null,
            "orient": "none",
            "direction": "horizontal",
            "legendX": 236,
            "legendY": 608,
            "symbolType": "stroke",
            "symbolSize": 2900,
            "symbolStrokeWidth": 5,
            "labelFontSize": 21,
            "labelColor": "#595959",
            "labelFont": "Lato",
            "labelOffset": 4,
            "columnPadding": 16
          }
        }
      }
    }
  ]
}
